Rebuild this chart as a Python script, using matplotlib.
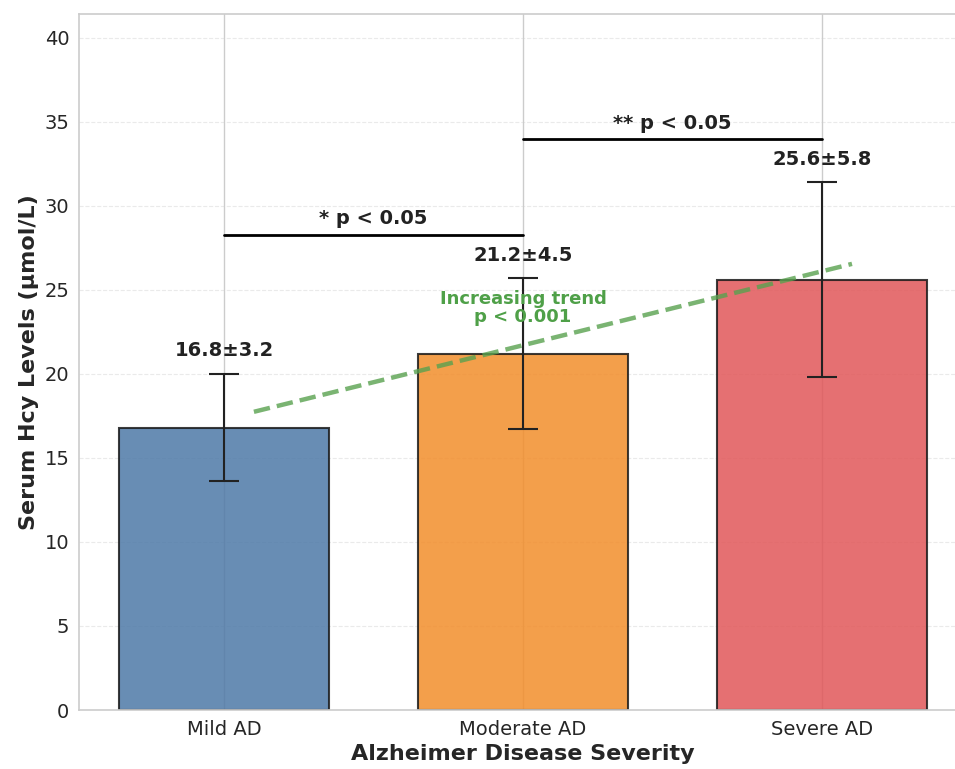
import matplotlib
matplotlib.use("Agg")
from matplotlib import pyplot as plt
import seaborn as sns
import numpy as np

sns.set_style("whitegrid")
plt.rcParams["font.family"] = ["DejaVu Sans"]

groups = ["Mild AD", "Moderate AD", "Severe AD"]
hcy_mean = [16.8, 21.2, 25.6]
hcy_sd = [3.2, 4.5, 5.8]
bar_colors = ["#4e79a7", "#f28e2b", "#e15759"]

fig = plt.figure(figsize=(9.55, 7.69), dpi=100)
ax = fig.add_axes([0.0827, 0.0767, 0.930, 0.905])

x = np.arange(len(groups))
ax.bar(x, hcy_mean, width=0.7, color=bar_colors, alpha=0.85,
       edgecolor="#1a1a1a", linewidth=1.5, zorder=2)
ax.errorbar(x, hcy_mean, yerr=hcy_sd, fmt="none", ecolor="#222222",
            elinewidth=1.5, capsize=11, capthick=1.5, zorder=3)

# mean±sd labels above error bars
for i in range(len(groups)):
    ax.text(x[i], hcy_mean[i] + hcy_sd[i] + 0.8,
            "{:.1f}±{:.1f}".format(hcy_mean[i], hcy_sd[i]),
            ha="center", va="bottom", fontsize=14, fontweight="bold",
            color="#222222")

# significance brackets
def sig_line(x1, x2, y, label):
    ax.plot([x1, x2], [y, y], color="black", linewidth=2, zorder=4)
    ax.text((x1 + x2) / 2, y + 0.4, label, ha="center", va="bottom",
            fontsize=14, fontweight="bold", color="#222222")

sig_line(0, 1, 28.25, "* p < 0.05")
sig_line(1, 2, 33.95, "** p < 0.05")

# linear trend across severity
coef = np.polyfit(x, hcy_mean, 1)
xt = np.linspace(0.1, 2.1, 50)
ax.plot(xt, np.polyval(coef, xt) + 0.5, color="#59a14f", linestyle="--",
        linewidth=3.2, alpha=0.8, zorder=4)
ax.text(1.0, 23.9, "Increasing trend\np < 0.001", ha="center", va="center",
        fontsize=13, fontweight="bold", color="#4fa048", linespacing=1.0)

ax.set_xticks(x)
ax.set_xticklabels(groups, fontsize=14)
ax.set_xlim(-0.485, 2.485)
ax.set_ylim(0, 41.4)
ax.set_yticks(np.arange(0, 41, 5))
ax.tick_params(axis="y", labelsize=14)
ax.set_xlabel("Alzheimer Disease Severity", fontsize=16, fontweight="bold",
              labelpad=4)
ax.set_ylabel("Serum Hcy Levels (μmol/L)", fontsize=16, fontweight="bold")
ax.grid(True, axis="y", linestyle="--", alpha=0.4)
ax.grid(True, axis="x", color="#cccccc", linewidth=1)
ax.set_axisbelow(True)
for sp in ax.spines.values():
    sp.set_color("#cccccc")
    sp.set_linewidth(1.2)

plt.savefig("out.png", dpi=100)
